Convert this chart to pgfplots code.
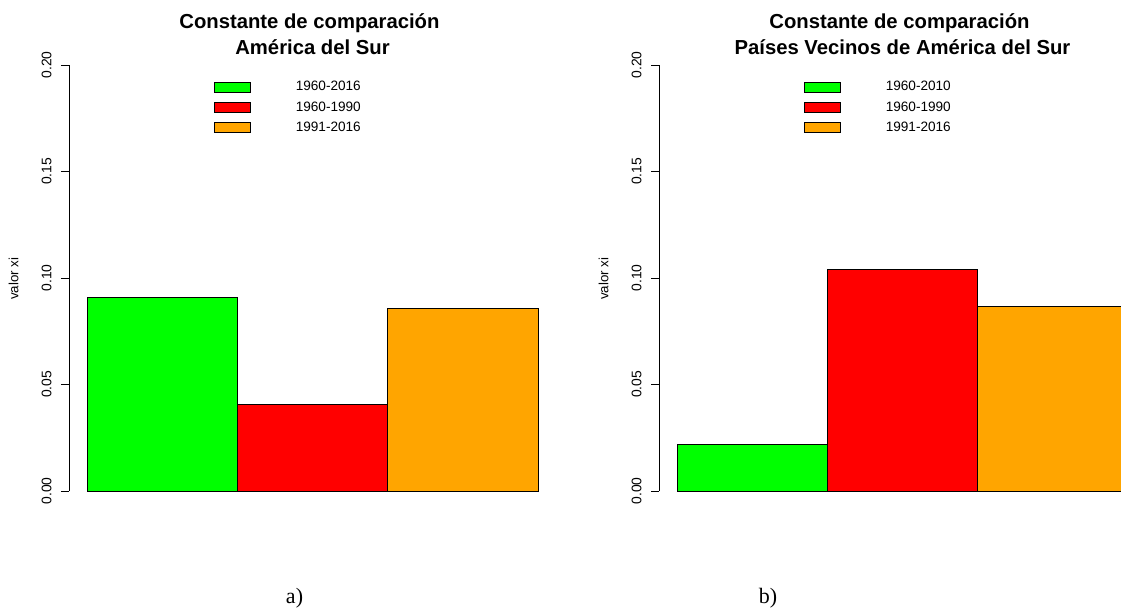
\documentclass[border=0pt]{standalone}
\usepackage{pgfplots}
\pgfplotsset{compat=1.18}
\usepackage{fontspec}
\setmainfont{Liberation Sans}
\newfontfamily\capfont{Liberation Serif}
\definecolor{rgreen}{HTML}{00FF00}
\definecolor{rred}{HTML}{FF0000}
\definecolor{rorange}{HTML}{FFA500}
\pgfplotsset{
  legbox/.style={legend image code/.code={\draw[##1, draw=black, line width=0.6pt] (0pt,-3.75pt) rectangle (27pt,3.75pt);}},
  rbar/.style={ybar, bar width=1, bar shift=0pt, fill=#1, draw=black, line width=0.7pt, legbox},
  rpanel/.style={
    scale only axis, width=365.25pt, height=319.5pt,
    anchor=south west,
    xmin=-0.12, xmax=3.12, ymin=0, ymax=0.2,
    axis x line=none, axis y line*=left,
    axis line style={-, line width=0.75pt, black},
    ytick={0,0.05,0.1,0.15,0.2}, yticklabels={0.00,0.05,0.10,0.15,0.20},
    tick align=outside, major tick length=6pt,
    tick style={line width=0.75pt, black},
    yticklabel style={font=\fontsize{10.4}{12}\selectfont, rotate=90, anchor=south, inner xsep=0pt, inner ysep=7pt},
    ylabel={valor xi},
    every axis y label/.style={at={(axis description cs:-0.1041,0.498)}, rotate=90, anchor=base, inner sep=0pt, font=\fontsize{10}{12}\selectfont},
    title style={at={(axis description cs:0.5,1)}, anchor=south, yshift=1.5pt, inner sep=0pt, align=center, font=\fontsize{15.2}{19.5}\selectfont\bfseries},
    legend style={at={(axis description cs:0.297,1)}, anchor=north west, yshift=-12.2pt, draw=none, fill=none, inner sep=0pt, outer sep=0pt, row sep=6.7pt, column sep=34pt, font=\fontsize{10.2}{12}\selectfont, nodes={inner sep=0pt}},
    legend cell align=left,
  }
}
\begin{document}
\begin{tikzpicture}
\path[use as bounding box] (0,0) rectangle (840.75pt,-457.5pt);
\begin{scope}
\clip (0,0) rectangle (840.75pt,-457.5pt);
\begin{axis}[rpanel, at={(51.75pt,-368.25pt)},
  title={Constante de comparación\hspace*{0.3em}\\ América del Sur}]
\addplot[rbar=rgreen] coordinates {(0.5,0.0908)};
\addlegendentry{1960-2016}
\addplot[rbar=rred] coordinates {(1.5,0.0407)};
\addlegendentry{1960-1990}
\addplot[rbar=rorange] coordinates {(2.5,0.0859)};
\addlegendentry{1991-2016}
\end{axis}
\begin{axis}[rpanel, at={(494.25pt,-368.25pt)},
  title={Constante de comparación\hspace*{0.3em}\\ Países Vecinos de América del Sur}]
\addplot[rbar=rgreen] coordinates {(0.5,0.0217)};
\addlegendentry{1960-2010}
\addplot[rbar=rred] coordinates {(1.5,0.1041)};
\addlegendentry{1960-1990}
\addplot[rbar=rorange] coordinates {(2.5,0.0867)};
\addlegendentry{1991-2016}
\end{axis}
\end{scope}
\node[anchor=base, inner sep=0pt, font=\capfont\fontsize{16.5}{18}\selectfont] at (220.9pt,-452.25pt) {a)};
\node[anchor=base, inner sep=0pt, font=\capfont\fontsize{16.5}{18}\selectfont] at (576pt,-452.25pt) {b)};
\end{tikzpicture}
\end{document}
